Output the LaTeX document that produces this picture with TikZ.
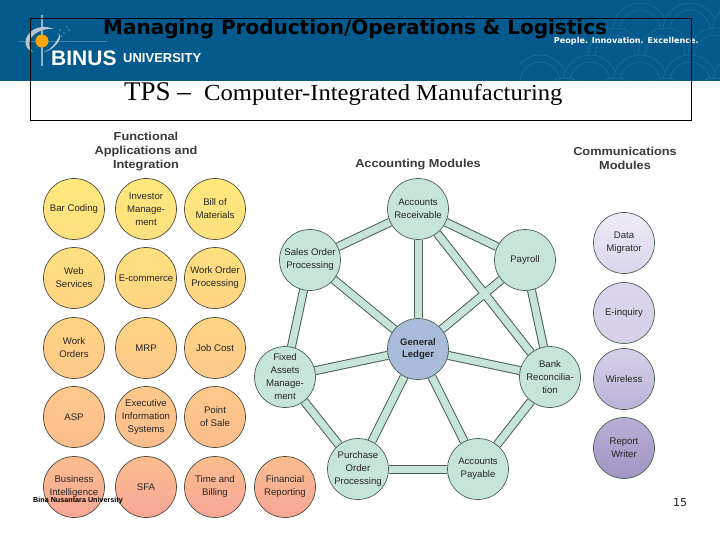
\documentclass[tikz,border=0pt]{standalone}
\usepackage{fontspec}
\setmainfont{Liberation Sans}
\newfontfamily\titlefont{DejaVu Sans}
\newfontfamily\serifface{Liberation Serif}
\newfontfamily\wideserif[FakeStretch=1.07]{Liberation Serif}
\newfontfamily\headface[FakeStretch=1.1]{Liberation Sans}
\usetikzlibrary{backgrounds}
\definecolor{bannerblue}{HTML}{045A8C}
\definecolor{arcblue}{HTML}{1F6C9A}
\definecolor{rowA}{HTML}{FFE87C}
\definecolor{rowB}{HTML}{FFE07E}
\definecolor{rowC}{HTML}{FFD483}
\definecolor{rowD}{HTML}{FDC98A}
\definecolor{rowE}{HTML}{FBBD8E}
\definecolor{rowF}{HTML}{F7A696}
\definecolor{tealfill}{HTML}{C6E4D8}
\definecolor{glfill}{HTML}{A9BDDA}
\definecolor{edgedark}{HTML}{4A5F58}
\definecolor{ringdark}{HTML}{4D4A3C}
\definecolor{headgray}{HTML}{3A3A3A}
\definecolor{cA}{HTML}{EFEBF6}
\definecolor{cB}{HTML}{DAD5EC}
\definecolor{cC}{HTML}{D6D0E8}
\definecolor{cD}{HTML}{BBB2D8}
\definecolor{cE}{HTML}{B9AFD6}
\definecolor{cF}{HTML}{A195C4}
\definecolor{logogray}{HTML}{B9C6D0}
\tikzset{
  x=1pt,y=-1pt,
  mod/.style={circle,minimum size=61pt,inner sep=0pt,align=center,draw=ringdark,line width=.7pt,
    font=\fontsize{9.6}{13}\selectfont,text=black!85},
  rowone/.style={mod,top color=rowA,bottom color=rowB},
  rowtwo/.style={mod,top color=rowB,bottom color=rowC},
  rowthree/.style={mod,top color=rowC,bottom color=rowD},
  rowfour/.style={mod,top color=rowD,bottom color=rowE},
  rowfive/.style={mod,top color=rowE,bottom color=rowF},
  acct/.style={mod,fill=tealfill,draw=edgedark},
  gl/.style={mod,fill=glfill,draw=edgedark,font=\fontsize{9.6}{12.5}\selectfont\bfseries},
  head/.style={font=\headface\fontsize{11.6}{14}\selectfont\bfseries,align=center,text=headgray,inner sep=0pt},
  bandout/.style={draw=edgedark,line width=9pt},
  bandin/.style={draw=tealfill,line width=7pt},
  archline/.style={draw=arcblue,fill=bannerblue,line width=.6pt},
}
\begin{document}
\begin{tikzpicture}
\useasboundingbox (0,0) rectangle (720,540);
% functional
\node[rowone] (bar) at (74,209) {Bar Coding};
\node[rowone] (inv) at (146,209) {Investor\\Manage-\\ment};
\node[rowone] (bill) at (215,209) {Bill of\\Materials};
\node[rowtwo] (web) at (74,278) {Web\\Services};
\node[rowtwo] (ecom) at (146,278) {E-commerce};
\node[rowtwo] (wop) at (215,278) {Work Order\\Processing};
\node[rowthree] (wo) at (74,348) {Work\\Orders};
\node[rowthree] (mrp) at (146,348) {MRP};
\node[rowthree] (job) at (215,348) {Job Cost};
\node[rowfour] (asp) at (74,417) {ASP};
\node[rowfour] (eis) at (146,417) {Executive\\Information\\Systems};
\node[rowfour] (pos) at (215,417) {Point\\of Sale};
\node[rowfive] (bi) at (74,487) {Business\\Intelligence};
\node[rowfive] (sfa) at (146,487) {SFA};
\node[rowfive] (tb) at (215,487) {Time and\\Billing};
\node[rowfive] (fr) at (285,487) {Financial\\Reporting};
% accounting
\node[acct] (ar) at (418,209) {Accounts\\Receivable};
\node[acct] (so) at (310,260) {Sales Order\\Processing};
\node[acct] (pay) at (525,260) {Payroll};
\node[gl] (gen) at (418,349) {General\\Ledger};
\node[acct] (fa) at (285,377) {Fixed\\Assets\\Manage-\\ment};
\node[acct] (bank) at (550,377) {Bank\\Reconcilia-\\tion};
\node[acct] (po) at (358,469) {Purchase\\Order\\Processing};
\node[acct] (ap) at (478,469) {Accounts\\Payable};
% communications
\node[mod,top color=cA,bottom color=cB,draw=edgedark] (dm) at (624,243) {Data\\Migrator};
\node[mod,top color=cB,bottom color=cC,draw=edgedark] (ei) at (624,313) {E-inquiry};
\node[mod,top color=cC,bottom color=cD,draw=edgedark] (wl) at (624,379) {Wireless};
\node[mod,top color=cE,bottom color=cF,draw=edgedark] (rw) at (624,448) {Report\\Writer};
% headings
\node[head] (h1) at (146,151.5) {Functional\\Applications and\\Integration};
\node[head] (h2) at (418,165) {Accounting Modules};
\node[head] (h3) at (625,158) {Communications\\Modules};
% banner text
\node[inner sep=0pt,anchor=west,text=black,font=\titlefont\bfseries\fontsize{20}{22}\selectfont] (ttl) at (103,29.5) {Managing Production/Operations \& Logistics};
\node[inner sep=0pt,anchor=east,text=white,font=\titlefont\bfseries\fontsize{8.1}{10}\selectfont] (tag) at (699,41) {People. Innovation. Excellence.};
\node[inner sep=0pt,anchor=west,text=white,font=\bfseries\fontsize{21}{23}\selectfont] (binus) at (51,58.5) {BINUS};
\node[inner sep=0pt,anchor=west,text=white,font=\bfseries\fontsize{13}{15}\selectfont] (univ) at (123,58) {UNIVERSITY};
\node[inner sep=0pt,anchor=base west,text=black,font=\serifface\fontsize{27}{30}\selectfont] (tps) at (124,101) {TPS \textendash};
\node[inner sep=0pt,anchor=base west,text=black,font=\wideserif\fontsize{23}{26}\selectfont] (sub) at (204,101) {Computer-Integrated Manufacturing};
\node[inner sep=0pt,anchor=west,text=black,font=\bfseries\fontsize{7.2}{8}\selectfont] (foot) at (33,501) {Bina Nusantara University};
\node[inner sep=0pt,text=black!85,font=\titlefont\fontsize{11}{13}\selectfont] (num) at (680,503) {15};
\begin{scope}[on background layer]
  \fill[bannerblue] (0,0) rectangle (720,81);
  \begin{scope}
    \clip (520,0) rectangle (720,81);
    \foreach \cx in {640,690,740}{\draw[archline] (\cx,30) circle[radius=27pt]; \draw[archline] (\cx,30) circle[radius=20pt];}
    \foreach \cx in {615,665,715}{\draw[archline] (\cx,55) circle[radius=27pt]; \draw[archline] (\cx,55) circle[radius=20pt];}
    \foreach \cx in {540,590,640,690,740}{\draw[archline] (\cx,82) circle[radius=27pt]; \draw[archline] (\cx,82) circle[radius=20pt];}
    \foreach \cx in {565,615,665,715}{\draw[archline] (\cx,105) circle[radius=27pt]; \draw[archline] (\cx,105) circle[radius=20pt];}
  \end{scope}
  % logo
  \draw[white!55!bannerblue,line width=1.2pt] (42,15) -- (42,66);
  \draw[white!25!bannerblue,line width=.5pt] (18,41) -- (107,41);
  \fill[logogray] (33,52) .. controls (22,48) and (24,36) .. (33,30) .. controls (39,26) and (47,26) .. (54,29)
     .. controls (46,28) and (36,31) .. (31,38) .. controls (28,43) and (29,49) .. (33,52) -- cycle;
  \fill[logogray] (44,52) .. controls (50,50) and (56,44) .. (60,34) .. controls (62,40) and (54,50) .. (44,52) -- cycle;
  \fill[orange!70!yellow] (42,41) circle[radius=6.5pt];
  \foreach \p in {(60,30),(64,33),(67,27),(62,36),(69,30),(58,34)}{\fill[white!80!bannerblue] \p circle[radius=.7pt];}
  % connectors
  \foreach \a/\b in {ar/so,ar/pay,ar/gen,ar/bank,so/gen,so/fa,pay/gen,pay/bank,fa/gen,fa/po,po/gen,po/ap,ap/gen,ap/bank,bank/gen}{
    \draw[bandout] (\a) -- (\b);
  }
  \foreach \a/\b in {ar/so,ar/pay,ar/gen,ar/bank,so/gen,so/fa,pay/gen,pay/bank,fa/gen,fa/po,po/gen,po/ap,ap/gen,ap/bank,bank/gen}{
    \draw[bandin] (\a) -- (\b);
  }
\end{scope}
\draw[black,line width=.8pt] (30,18) rectangle (691,120);
\end{tikzpicture}
\end{document}
